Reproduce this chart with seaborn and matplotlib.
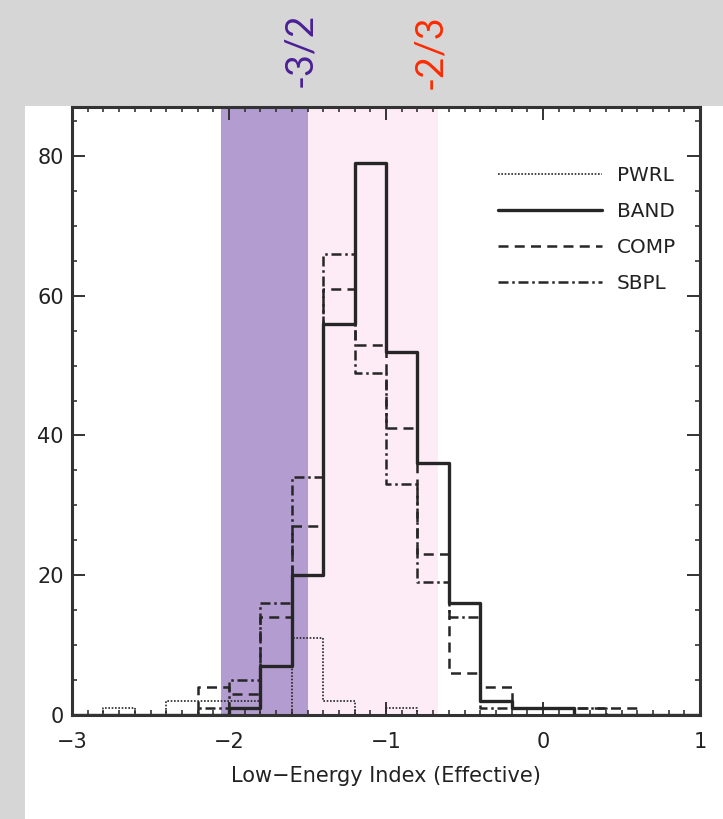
import numpy as np
import pandas as pd
import matplotlib
matplotlib.use("Agg")
import matplotlib.pyplot as plt
from matplotlib.patches import Rectangle
from matplotlib.ticker import MultipleLocator
import seaborn as sns

# ---- data (counts per 0.2-wide bin of the low-energy index) ----
bin_edges = [-3.0, -2.8, -2.6, -2.4, -2.2, -2.0, -1.8, -1.6, -1.4, -1.2, -1.0,
             -0.8, -0.6, -0.4, -0.2, 0.0, 0.2, 0.4, 0.6, 0.8, 1.0]
pwrl = [0, 1, 0, 2, 2, 2, 0, 11, 2, 0, 1, 0, 0, 0, 0, 0, 0, 0, 0, 0]
band = [0, 0, 0, 0, 0, 1, 7, 20, 56, 79, 52, 36, 16, 2, 1, 1, 0, 0, 0, 0]
comp = [0, 0, 0, 0, 4, 3, 14, 27, 61, 53, 41, 23, 6, 4, 1, 1, 1, 1, 0, 0]
sbpl = [0, 0, 0, 0, 1, 5, 16, 34, 66, 49, 33, 19, 14, 1, 1, 1, 1, 0, 0, 0]
series_names = ["PWRL", "BAND", "COMP", "SBPL"]
series_values = [pwrl, band, comp, sbpl]
line_limits = [-3 / 2, -2 / 3]
line_labels = ["-3/2", "-2/3"]
x_label = "Low\u2212Energy Index (Effective)"

# ---- figure ----
sns.set_style("ticks")
plt.rcParams["font.family"] = ["DejaVu Sans"]
W, H = 723, 819
fig = plt.figure(figsize=(W / 100, H / 100), dpi=100, facecolor="#d6d6d6")
fig.patches.append(Rectangle((25 / W, 0), 1 - 25 / W, (H - 106) / H,
                             transform=fig.transFigure, facecolor="white",
                             edgecolor="none", zorder=-5))
ax = fig.add_axes([72 / W, (H - 715) / H, (700 - 72) / W, (715 - 107) / H])
ax.set_facecolor("none")

centers = [(a + b) / 2 for a, b in zip(bin_edges[:-1], bin_edges[1:])]
rows = []
for name, vals in zip(series_names, series_values):
    for c, v in zip(centers, vals):
        rows.append({"x": c, "count": v, "model": name})
df = pd.DataFrame(rows)

styles = {
    "PWRL": dict(linestyle=(0, (1, 1)), linewidth=1.2),
    "BAND": dict(linestyle="-", linewidth=2.4),
    "COMP": dict(linestyle=(0, (4, 2.5)), linewidth=1.8),
    "SBPL": dict(linestyle=(0, (4, 1.5, 1, 1.5)), linewidth=1.8),
}
line_color = "#262626"

# shaded regions
ax.axvspan(-2.05, line_limits[0], color="#b39cd0", zorder=0, lw=0)
ax.axvspan(line_limits[0], line_limits[1], color="#fdebf6", zorder=0, lw=0)

for name in series_names:
    sub = df[df["model"] == name].reset_index(drop=True)
    sns.histplot(data=sub, x="x", weights="count", bins=list(bin_edges), element="step",
                 fill=False, color=line_color, ax=ax, label=name, **styles[name])

ax.set_xlim(-3, 1)
ax.set_ylim(0, 87)
ax.xaxis.set_major_locator(MultipleLocator(1))
ax.xaxis.set_minor_locator(MultipleLocator(0.1))
ax.yaxis.set_major_locator(MultipleLocator(20))
ax.yaxis.set_minor_locator(MultipleLocator(5))
ax.set_xticks([-3, -2, -1, 0, 1])
ax.set_xticklabels(["\u22123", "\u22122", "\u22121", "0", "1"])
ax.tick_params(which="both", direction="in", top=True, right=True,
               color="#333333", labelsize=15, labelcolor="#222222")
ax.tick_params(which="major", length=9.5, width=1.4)
ax.tick_params(which="minor", length=3.6, width=1.2)
ax.tick_params(axis="x", pad=12)
ax.tick_params(axis="y", pad=6)
for s in ax.spines.values():
    s.set_linewidth(2.2)
    s.set_color("#333333")
ax.set_xlabel(x_label, fontsize=15, color="#222222", labelpad=10)
ax.set_ylabel("")

handles = [plt.Line2D([], [], color=line_color, **styles[n]) for n in series_names]
leg = ax.legend(handles, series_names, loc="upper left",
                bbox_to_anchor=((498 - 72) / (700 - 72), 1 - (166 - 107) / (715 - 107)),
                frameon=False, fontsize=14.4, handlelength=5.2, handletextpad=0.75,
                labelspacing=0.85, borderaxespad=0, borderpad=0)
for t in leg.get_texts():
    t.set_color("#222222")

# annotations in the top band
fig.text(300 / W, 1 - 50 / H, line_labels[0], rotation=90, ha="center", va="center",
         fontsize=27, color="#4b1f96", family=["Lato", "DejaVu Sans"])
fig.text(430 / W, 1 - 52 / H, line_labels[1], rotation=90, ha="center", va="center",
         fontsize=27, color="#ff2a00", family=["Lato", "DejaVu Sans"])

fig.savefig("out.png", dpi=100, facecolor=fig.get_facecolor())
